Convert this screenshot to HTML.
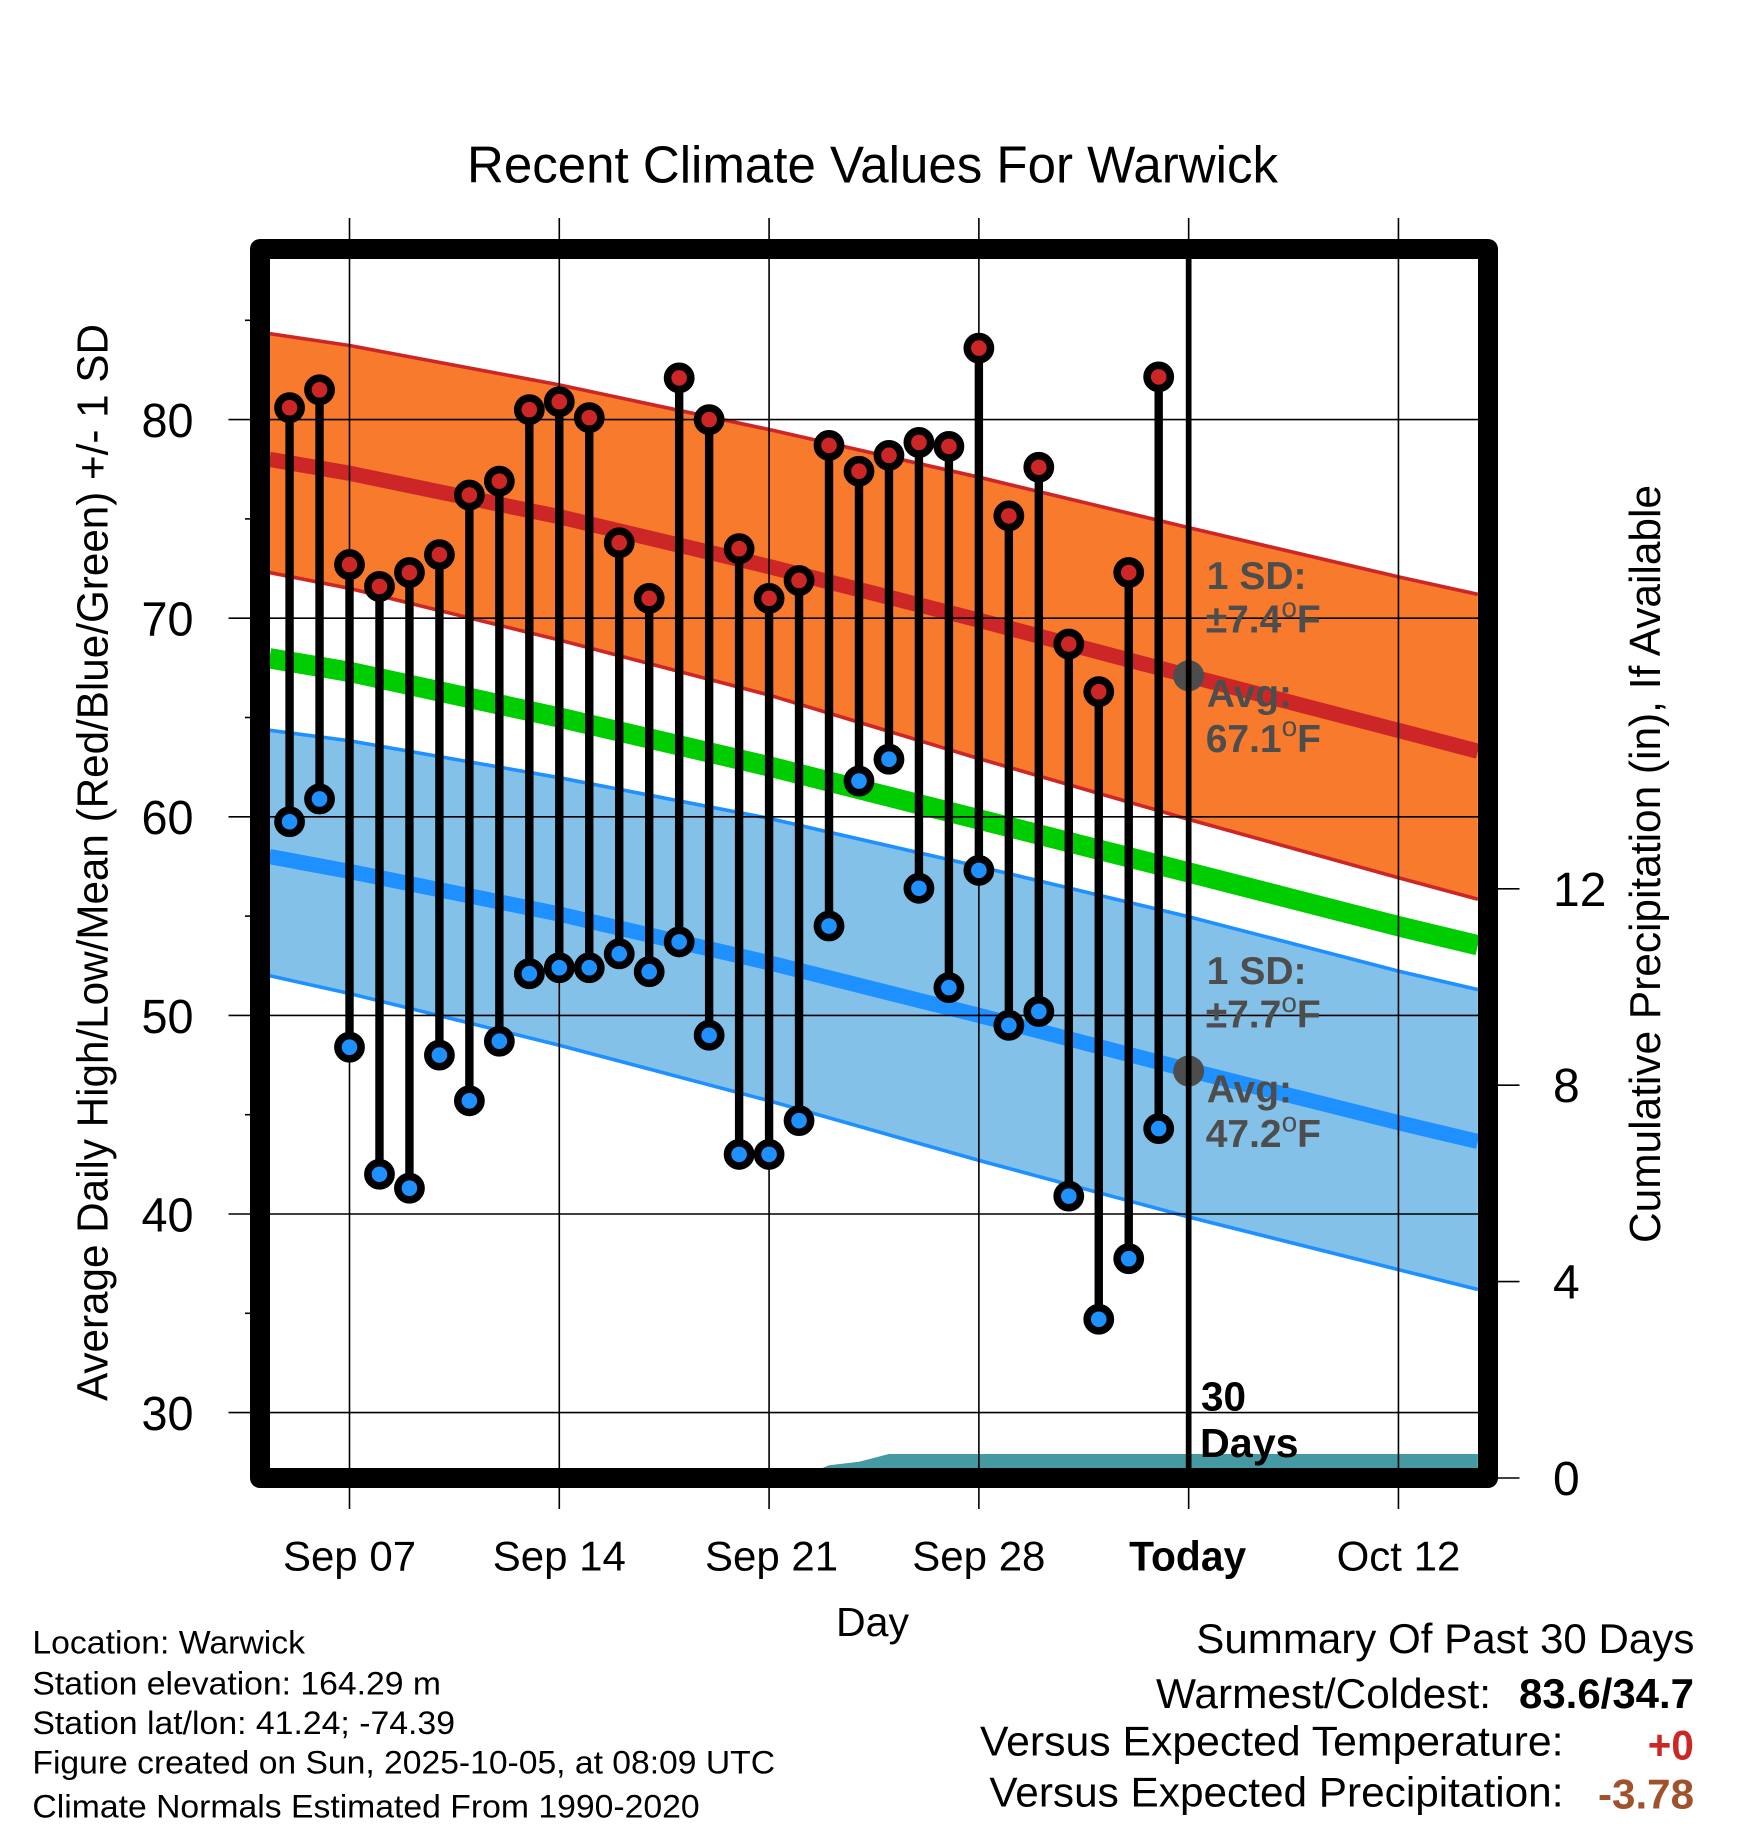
<!DOCTYPE html>
<html lang="en">
<head>
<meta charset="utf-8">
<title>Recent Climate Values For Warwick</title>
<style>
html,body{margin:0;padding:0;background:#fff;}
svg{display:block;font-family:"Liberation Sans",Arial,Helvetica,sans-serif;}
.gray{fill:#4d4d4d;font-weight:bold;font-size:39px;}
.gray tspan.deg{font-weight:normal;font-size:28px;}
.foot{font-size:32px;fill:#000;}
.sum{font-size:42px;fill:#000;}
</style>
</head>
<body>
<svg id="chart" xmlns="http://www.w3.org/2000/svg" width="1748" height="1828" viewBox="0 0 1748 1828">
  <rect x="0" y="0" width="1748" height="1828" fill="#ffffff"/>
  <defs>
    <clipPath id="plot-clip"><rect x="270" y="259" width="1208" height="1209"/></clipPath>
  </defs>
  <g id="plot-layer" clip-path="url(#plot-clip)"></g>
  <g id="grid-layer"></g>
  <g id="mark-layer" clip-path="url(#plot-clip)"></g>
  <rect x="260" y="249" width="1228" height="1229" fill="none" stroke="#000" stroke-width="20" stroke-linejoin="round"/>
  <g id="axis-layer"></g>

  <text x="467" y="182.6" font-size="52" textLength="811" lengthAdjust="spacingAndGlyphs">Recent Climate Values For Warwick</text>
  <text x="836" y="1636" font-size="41" textLength="73" lengthAdjust="spacingAndGlyphs">Day</text>
  <text transform="translate(107.6 1401) rotate(-90)" font-size="44" textLength="1077" lengthAdjust="spacingAndGlyphs">Average Daily High/Low/Mean (Red/Blue/Green) +/- 1 SD</text>
  <text transform="translate(1660 1243) rotate(-90)" font-size="44" textLength="758" lengthAdjust="spacingAndGlyphs">Cumulative Precipitation (in), If Available</text>

  <text class="gray" x="1206.8" y="588.8">1 SD:</text>
  <text class="gray" x="1205.7" y="632.6">±7.4<tspan class="deg" dy="-15.6">o</tspan><tspan dy="15.6">F</tspan></text>
  <text class="gray" x="1206.8" y="707">Avg:</text>
  <text class="gray" x="1205.7" y="751.8">67.1<tspan class="deg" dy="-15.6">o</tspan><tspan dy="15.6">F</tspan></text>
  <text class="gray" x="1206.8" y="984">1 SD:</text>
  <text class="gray" x="1205.7" y="1027.6">±7.7<tspan class="deg" dy="-15.6">o</tspan><tspan dy="15.6">F</tspan></text>
  <text class="gray" x="1206.8" y="1102.7">Avg:</text>
  <text class="gray" x="1205.7" y="1146.9">47.2<tspan class="deg" dy="-15.6">o</tspan><tspan dy="15.6">F</tspan></text>

  <text x="1201" y="1410.7" font-size="41" font-weight="bold" textLength="45" lengthAdjust="spacingAndGlyphs">30</text>
  <text x="1200" y="1457" font-size="41" font-weight="bold" textLength="98.6" lengthAdjust="spacingAndGlyphs">Days</text>

  <g>
    <text class="foot" x="32.4" y="1653.3" textLength="272.6" lengthAdjust="spacingAndGlyphs">Location: Warwick</text>
    <text class="foot" x="32.4" y="1694.7" textLength="408.6" lengthAdjust="spacingAndGlyphs">Station elevation: 164.29 m</text>
    <text class="foot" x="32.4" y="1734" textLength="422.6" lengthAdjust="spacingAndGlyphs">Station lat/lon: 41.24; -74.39</text>
    <text class="foot" x="32.4" y="1773.3" textLength="742.6" lengthAdjust="spacingAndGlyphs">Figure created on Sun, 2025-10-05, at 08:09 UTC</text>
    <text class="foot" x="32.4" y="1817.7" textLength="667.2" lengthAdjust="spacingAndGlyphs">Climate Normals Estimated From 1990-2020</text>
  </g>

  <g>
    <text class="sum" x="1196.3" y="1653" textLength="498.1" lengthAdjust="spacingAndGlyphs">Summary Of Past 30 Days</text>
    <text class="sum" x="1156" y="1708" textLength="335" lengthAdjust="spacingAndGlyphs">Warmest/Coldest:</text>
    <text class="sum" x="1519" y="1708" font-weight="bold" textLength="175" lengthAdjust="spacingAndGlyphs">83.6/34.7</text>
    <text class="sum" x="980" y="1755.3" textLength="583.5" lengthAdjust="spacingAndGlyphs">Versus Expected Temperature:</text>
    <text class="sum" x="1647.8" y="1759.3" font-weight="bold" style="fill:#cd2626" textLength="46" lengthAdjust="spacingAndGlyphs">+0</text>
    <text class="sum" x="989.4" y="1806.5" textLength="574.1" lengthAdjust="spacingAndGlyphs">Versus Expected Precipitation:</text>
    <text class="sum" x="1598" y="1808.7" font-weight="bold" style="fill:#a0522d" textLength="96" lengthAdjust="spacingAndGlyphs">-3.78</text>
  </g>
</svg>

<script>
// Data: days are counted from Sep 07 (day 0)
const normalDays = [-2.67, 0, 7, 14, 21, 28, 35, 37.65];
const highUpper = [84.33, 83.73, 81.75, 79.5, 77.1, 74.56, 72.08, 71.2];
const highMean = [78.0, 77.3, 75.11, 72.6, 69.9, 67.1, 64.35, 63.3];
const highLower = [72.3, 71.5, 68.9, 66.13, 62.93, 59.87, 56.93, 55.85];
const meanNormal = [67.98, 67.3, 65.0, 62.54, 59.87, 57.2, 54.49, 53.53];
const lowUpper = [64.36, 63.83, 61.97, 59.92, 57.5, 54.97, 52.23, 51.3];
const lowMean = [58.0, 57.25, 55.1, 52.65, 50.0, 47.25, 44.6, 43.65];
const lowLower = [52.0, 51.1, 48.5, 45.7, 42.7, 39.85, 37.2, 36.2];

const obsDays = [-2,-1,0,1,2,3,4,5,6,7,8,9,10,11,12,13,14,15,16,17,18,19,20,21,22,23,24,25,26,27];
const dailyHighs = [80.6,81.5,72.7,71.6,72.3,73.2,76.2,76.9,80.5,80.9,80.1,73.8,71.0,82.1,80.0,73.5,71.0,71.9,78.7,77.4,78.2,78.85,78.65,83.6,75.15,77.6,68.7,66.3,72.3,82.15];
const dailyLows = [59.75,60.9,48.4,42.0,41.3,48.0,45.7,48.7,52.1,52.4,52.4,53.1,52.2,53.7,49.0,43.0,43.0,44.7,54.5,61.8,62.9,56.4,51.4,57.3,49.5,50.2,40.9,34.7,37.75,44.3];

const precipDays = [-2.67, 15, 16, 17, 18, 37.65];
const precipValues = [0, 0, 0.26, 0.33, 0.49, 0.49];

const xTickDays = [0, 7, 14, 21, 28, 35];
const xTickLabels = ["Sep 07", "Sep 14", "Sep 21", "Sep 28", "Today", "Oct 12"];
const yTicks = [30, 40, 50, 60, 70, 80];
const yMinorTicks = [35, 45, 55, 65, 75, 85];
const rightTicks = [0, 4, 8, 12];
const todayDay = 28;
const todayHighMean = 67.1;
const todayLowMean = 47.2;

// Axis functions
function xScale(day) { return 349.5 + day * 29.97; }
function yScale(temp) { return 419.6 + (80 - temp) * 19.86; }
function rScale(inches) { return 1478 - inches * 49.1; }

const NS = 'http://www.w3.org/2000/svg';
function mk(parent, tag, attrs) {
  const el = document.createElementNS(NS, tag);
  for (const k in attrs) el.setAttribute(k, attrs[k]);
  parent.appendChild(el);
  return el;
}
function linePath(days, vals) {
  return days.map((d, i) => (i ? 'L' : 'M') + xScale(d).toFixed(2) + ' ' + yScale(vals[i]).toFixed(2)).join(' ');
}
function bandPath(days, upper, lower) {
  const up = days.map((d, i) => xScale(d).toFixed(2) + ' ' + yScale(upper[i]).toFixed(2));
  const lo = days.map((d, i) => xScale(d).toFixed(2) + ' ' + yScale(lower[i]).toFixed(2)).reverse();
  return 'M' + up.join(' L') + ' L' + lo.join(' L') + ' Z';
}

const plot = document.getElementById('plot-layer');
const grid = document.getElementById('grid-layer');
const marks = document.getElementById('mark-layer');
const axis = document.getElementById('axis-layer');
let el;

// Bands and normals
el = mk(plot, 'path', { d: bandPath(normalDays, highUpper, highLower), fill: '#f87a2c' });


el = mk(plot, 'path', { d: bandPath(normalDays, lowUpper, lowLower), fill: '#83c1e9' });


el = mk(plot, 'path', { d: linePath(normalDays, highUpper), fill: 'none', stroke: '#cd2626', 'stroke-width': 3.6 });


el = mk(plot, 'path', { d: linePath(normalDays, highLower), fill: 'none', stroke: '#cd2626', 'stroke-width': 3.6 });


el = mk(plot, 'path', { d: linePath(normalDays, lowUpper), fill: 'none', stroke: '#1e90ff', 'stroke-width': 3.6 });


el = mk(plot, 'path', { d: linePath(normalDays, lowLower), fill: 'none', stroke: '#1e90ff', 'stroke-width': 3.6 });


el = mk(plot, 'path', { d: linePath(normalDays, highMean), fill: 'none', stroke: '#cd2626', 'stroke-width': 15.2 });


el = mk(plot, 'path', { d: linePath(normalDays, meanNormal), fill: 'none', stroke: '#00cd00', 'stroke-width': 20.3 });


el = mk(plot, 'path', { d: linePath(normalDays, lowMean), fill: 'none', stroke: '#1e90ff', 'stroke-width': 15.2 });



// Cumulative precipitation
const precipTop = precipDays.map((d, i) => xScale(d).toFixed(2) + ' ' + rScale(precipValues[i]).toFixed(2));
el = mk(plot, 'path', {
  d: 'M' + xScale(precipDays[0]).toFixed(2) + ' ' + rScale(0) + ' L' + precipTop.join(' L') + ' L' + xScale(precipDays[precipDays.length - 1]).toFixed(2) + ' ' + rScale(0) + ' Z',
  fill: '#4499a3'
});



// Grid and ticks
yTicks.forEach(function (t) {
  const line = mk(grid, 'line', { x1: 228.5, x2: 1478, y1: yScale(t), y2: yScale(t), stroke: '#000', 'stroke-width': 1.6 });
  
  
  const label = mk(axis, 'text', { x: 193.5, y: yScale(t) + 17.4, 'font-size': 48, 'text-anchor': 'end', textLength: 52, lengthAdjust: 'spacingAndGlyphs' });
  
  
  label.textContent = String(t);
});
yMinorTicks.forEach(function (t) {
  const line = mk(grid, 'line', { x1: 245, x2: 252, y1: yScale(t), y2: yScale(t), stroke: '#000', 'stroke-width': 1.6 });
  
  
});
xTickDays.forEach(function (d, i) {
  const line = mk(grid, 'line', { x1: xScale(d), x2: xScale(d), y1: 218, y2: 1509, stroke: '#000', 'stroke-width': 1.6 });
  
  
  const isToday = xTickLabels[i] === 'Today';
  const nudge = isToday ? -1 : (xTickLabels[i] === 'Sep 21' ? 2.5 : 0);
  const label = mk(axis, 'text', { x: xScale(d) + nudge, y: 1570.7, 'font-size': 42, 'text-anchor': 'middle', 'font-weight': isToday ? 'bold' : 'normal' });
  if (isToday) label.setAttribute('textLength', 117);
  if (isToday) label.setAttribute('lengthAdjust', 'spacingAndGlyphs');
  
  
  label.textContent = xTickLabels[i];
});
rightTicks.forEach(function (t) {
  const line = mk(grid, 'line', { x1: 1490, x2: 1519.5, y1: rScale(t), y2: rScale(t), stroke: '#000', 'stroke-width': 1.6 });
  
  
  const label = mk(axis, 'text', { x: 1553, y: rScale(t) + 17, 'font-size': 48 });
  
  
  label.textContent = String(t);
});

// Today markers and line
el = mk(marks, 'circle', { cx: xScale(todayDay), cy: yScale(todayHighMean), r: 15.5, fill: '#4d4d4d' });


el = mk(marks, 'circle', { cx: xScale(todayDay), cy: yScale(todayLowMean), r: 15.5, fill: '#4d4d4d' });


el = mk(marks, 'line', { x1: xScale(todayDay), x2: xScale(todayDay), y1: 249, y2: 1478, stroke: '#000', 'stroke-width': 5.7 });



// Daily stems and markers
obsDays.forEach(function (d, i) {
  const stem = mk(marks, 'line', { x1: xScale(d), x2: xScale(d), y1: yScale(dailyHighs[i]), y2: yScale(dailyLows[i]), stroke: '#000', 'stroke-width': 8.4 });
  
  
  const hi = mk(marks, 'circle', { cx: xScale(d), cy: yScale(dailyHighs[i]), r: 11.6, fill: '#cd2626', stroke: '#000', 'stroke-width': 7.6 });
  
  
  const lo = mk(marks, 'circle', { cx: xScale(d), cy: yScale(dailyLows[i]), r: 11.6, fill: '#1e90ff', stroke: '#000', 'stroke-width': 7.6 });
  
  
});
</script>
</body>
</html>
